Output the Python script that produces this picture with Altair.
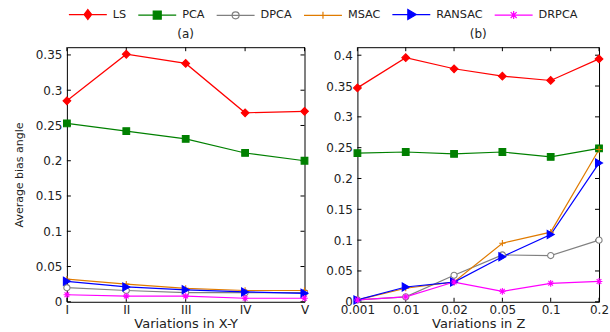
import altair as alt
import pandas as pd

series = ["LS", "PCA", "DPCA", "MSAC", "RANSAC", "DRPCA"]
colors = ["#ff0000", "#008000", "#808080", "#e07b00", "#0000ff", "#ff00ff"]
fills = ["#ff0000", "#008000", "#ffffff", "#e07b00", "#0000ff", "#ff00ff"]

xy_labels = ["I", "II", "III", "IV", "V"]
z_labels = ["0.001", "0.01", "0.02", "0.05", "0.1", "0.2"]

# panel (a): variations in X-Y
a_LS = [0.285, 0.351, 0.338, 0.268, 0.270]
a_PCA = [0.253, 0.242, 0.231, 0.211, 0.200]
a_DPCA = [0.020, 0.016, 0.013, 0.013, 0.013]
a_MSAC = [0.032, 0.025, 0.019, 0.016, 0.016]
a_RANSAC = [0.029, 0.021, 0.017, 0.014, 0.012]
a_DRPCA = [0.010, 0.008, 0.008, 0.005, 0.005]

# panel (b): variations in Z
b_LS = [0.347, 0.396, 0.378, 0.366, 0.359, 0.394]
b_PCA = [0.241, 0.243, 0.240, 0.243, 0.235, 0.249]
b_DPCA = [0.003, 0.008, 0.043, 0.076, 0.075, 0.100]
b_MSAC = [0.003, 0.022, 0.032, 0.095, 0.113, 0.247]
b_RANSAC = [0.003, 0.024, 0.032, 0.073, 0.109, 0.225]
b_DRPCA = [0.003, 0.008, 0.032, 0.017, 0.030, 0.033]

a_ticks = [0, 0.05, 0.1, 0.15, 0.2, 0.25, 0.3, 0.35]
b_ticks = [0, 0.05, 0.1, 0.15, 0.2, 0.25, 0.3, 0.35, 0.4]

PLUS = "M-1,0H1M0,-1V1"
STAR = "M-1,0H1M0,-1V1M-0.7,-0.7L0.7,0.7M-0.7,0.7L0.7,-0.7"
plot_shapes = ["diamond", "square", "circle", PLUS, "triangle-right", STAR]
plot_sizes = [60, 45, 38, 40, 65, 45]

# legend glyphs: a line segment with the series marker (unit = half symbol size)
legend_paths = [
    "M-1.9,0H1.9M0,-0.5L0.38,0L0,0.5L-0.38,0Z",
    "M-1.9,0H1.9M-0.4,-0.4H0.4V0.4H-0.4Z",
    "M-1.9,0H1.9M0.35,0A0.35,0.35 0 1,1 -0.35,0A0.35,0.35 0 1,1 0.35,0Z",
    "M-1.9,0H1.9M0,-0.35V0.35",
    "M-1.9,0H1.9M-0.35,-0.5L0.5,0L-0.35,0.5Z",
    "M-1.9,0H1.9M0,-0.4V0.4M-0.3,-0.3L0.3,0.3M-0.3,0.3L0.3,-0.3",
]

FONT = "DejaVu Sans"

legend = alt.Legend(
    title=None,
    orient="none",
    direction="horizontal",
    legendX=10,
    legendY=-44,
    symbolSize=400,
    symbolStrokeWidth=1.2,
    symbolOpacity=1,
    labelFont=FONT,
    labelFontSize=11.3,
    labelColor="#222222",
    labelOffset=14,
    columnPadding=8.5,
)

stroke_scale = alt.Scale(domain=series, range=colors)
fill_scale = alt.Scale(domain=series, range=fills)
shape_scale = alt.Scale(domain=series, range=legend_paths)


def long_df(labels, data):
    rows = []
    for s, vals in zip(series, data):
        for lab, v in zip(labels, vals):
            rows.append({"x": lab, "value": v, "series": s})
    return pd.DataFrame(rows)


def panel(labels, data, ticks, ymax, width, height, title, xtitle, show_ytitle):
    df = long_df(labels, data)
    xaxis = alt.Axis(title=xtitle, labelAngle=0, ticks=False, domain=False,
                     labelPadding=3, titlePadding=2)
    yaxis = alt.Axis(title="Average bias angle" if show_ytitle else None,
                     values=ticks, format="~g", ticks=False, domain=False,
                     grid=False, labelPadding=5, titlePadding=11)
    xscale = alt.Scale(type="point", padding=0)
    yscale = alt.Scale(domain=[0, ymax], nice=False)
    xs = alt.X("x:N", sort=labels, scale=xscale, axis=xaxis)
    ys = alt.Y("value:Q", scale=yscale, axis=yaxis)
    stroke = alt.Stroke("series:N", scale=stroke_scale, legend=legend)
    fill = alt.Fill("series:N", scale=fill_scale, legend=legend)
    base = alt.Chart(df)
    lines = base.mark_line(strokeWidth=1.2).encode(
        x=xs, y=ys, stroke=stroke, detail="series:N")
    marker_layers = []
    for s, shp, sz in zip(series, plot_shapes, plot_sizes):
        marker_layers.append(
            base.transform_filter(alt.datum.series == s)
            .mark_point(shape=shp, size=sz, strokeWidth=1.1, opacity=1)
            .encode(x=xs, y=ys, stroke=stroke, fill=fill)
        )
    legend_layer = base.mark_point(opacity=0, size=1).encode(
        x=xs, y=ys, stroke=stroke, fill=fill,
        shape=alt.Shape("series:N", scale=shape_scale, legend=legend))
    tdf = pd.DataFrame({"t": ticks})
    xdf = pd.DataFrame({"x": labels})
    yt = alt.Y("t:Q", scale=yscale, axis=yaxis)
    xt = alt.X("x:N", sort=labels, scale=xscale, axis=xaxis)
    lt = alt.Chart(tdf).mark_rule(color="black", strokeWidth=1).encode(
        y=yt, x=alt.value(0), x2=alt.value(4))
    rt = alt.Chart(tdf).mark_rule(color="black", strokeWidth=1).encode(
        y=yt, x=alt.value(width - 4), x2=alt.value(width))
    bt = alt.Chart(xdf).mark_rule(color="black", strokeWidth=1).encode(
        x=xt, y=alt.value(height - 4), y2=alt.value(height))
    tt = alt.Chart(xdf).mark_rule(color="black", strokeWidth=1).encode(
        x=xt, y=alt.value(0), y2=alt.value(4))
    return alt.layer(lt, rt, bt, tt, lines, *marker_layers, legend_layer).properties(
        width=width, height=height,
        title=alt.TitleParams(title, fontSize=12, fontWeight="normal",
                              font=FONT, color="#222222", offset=6))


left = panel(xy_labels, [a_LS, a_PCA, a_DPCA, a_MSAC, a_RANSAC, a_DRPCA],
             a_ticks, 0.361, 238, 255, "(a)", "Variations in X-Y", True)
right = panel(z_labels, [b_LS, b_PCA, b_DPCA, b_MSAC, b_RANSAC, b_DRPCA],
              b_ticks, 0.413, 242, 255, "(b)", "Variations in Z", False)

chart = alt.hconcat(left, right, spacing=53, bounds="flush").configure_view(
    stroke="black", strokeWidth=1
).configure_axis(
    labelFont=FONT, labelFontSize=12, labelColor="#222222",
    titleFont=FONT, titleFontSize=13, titleFontWeight="normal",
    titleColor="#222222"
).configure_axisY(titleFontSize=11).properties(
    padding={"left": 12, "top": 3, "right": 0, "bottom": 0}
)

chart.save("out.html", embed_options={"renderer": "svg", "actions": False})
